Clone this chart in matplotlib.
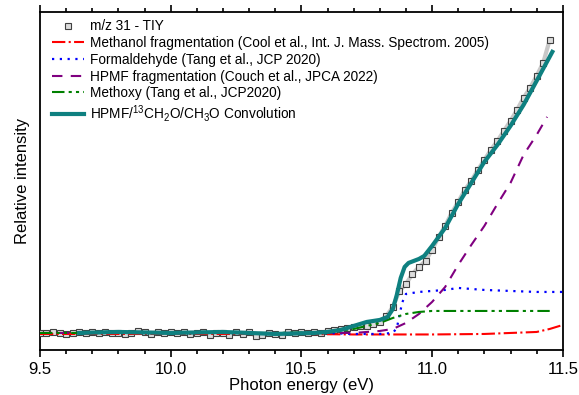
import numpy as np
import matplotlib
matplotlib.use("Agg")
import matplotlib.pyplot as plt

plt.rcParams['font.family'] = ['Liberation Sans', 'DejaVu Sans']
plt.rcParams['mathtext.fontset'] = 'custom'
plt.rcParams['mathtext.rm'] = 'Liberation Sans'
plt.rcParams['mathtext.it'] = 'Liberation Sans:italic'

# m/z 31 TIY data (0.025 eV steps, 9.5 - 11.45 eV)
tiy_energy = np.round(np.arange(9.5, 11.4501, 0.025), 3)
tiy_signal = [0.0, 0.0, 0.01, 0.0, -0.01, 0.0, 0.01, 0.0, 0.01, 0.0,
              0.01, 0.0, 0.0, -0.01, 0.0, 0.02, 0.01, -0.01, 0.01, 0.0,
              0.01, 0.0, 0.01, -0.01, 0.0, 0.01, -0.02, 0.0, 0.0, -0.02,
              0.01, -0.01, 0.01, -0.03, -0.02, 0.0, -0.01, -0.02, 0.01, 0.0,
              0.01, 0.0, 0.01, 0.0, 0.02, 0.03, 0.04, 0.05, 0.06, 0.07,
              0.07, 0.09, 0.11, 0.17, 0.26, 0.42, 0.49, 0.59, 0.66, 0.72,
              0.83, 0.96, 1.07, 1.20, 1.31, 1.43, 1.52, 1.63, 1.73, 1.83,
              1.92, 2.02, 2.12, 2.23, 2.35, 2.45, 2.57, 2.70, 2.93]

# convolution fit
conv_energy = [9.65, 9.8, 10.0, 10.2, 10.4, 10.55, 10.6, 10.65, 10.7, 10.75,
               10.8, 10.83, 10.85, 10.865, 10.88, 10.895, 10.91, 10.93, 10.95, 10.97,
               11.0, 11.05, 11.1, 11.15, 11.2, 11.25, 11.3, 11.35, 11.4, 11.46]
conv_signal = [0.0, 0.01, 0.0, 0.01, -0.01, 0.0, 0.01, 0.03, 0.07, 0.11,
               0.13, 0.16, 0.24, 0.38, 0.55, 0.66, 0.70, 0.72, 0.74, 0.77,
               0.87, 1.05, 1.29, 1.50, 1.71, 1.88, 2.07, 2.28, 2.52, 2.81]

# reference curves
methanol_energy = [9.5, 10.0, 10.5, 10.7, 11.0, 11.2, 11.3, 11.4, 11.45, 11.5]
methanol_signal = [-0.01, -0.01, -0.01, -0.015, -0.015, -0.01, 0.0, 0.01, 0.04, 0.08]

formaldehyde_energy = [10.5, 10.6, 10.7, 10.8, 10.85, 10.865, 10.875, 10.885, 10.9, 10.95,
                       11.0, 11.05, 11.1, 11.15, 11.2, 11.3, 11.4, 11.5]
formaldehyde_signal = [0.0, 0.0, -0.01, -0.01, 0.0, 0.05, 0.17, 0.30, 0.39, 0.41,
                       0.42, 0.43, 0.45, 0.44, 0.43, 0.42, 0.41, 0.41]

hpmf_energy = [9.5, 10.0, 10.5, 10.7, 10.8, 10.85, 10.9, 10.95, 11.0, 11.05,
               11.1, 11.15, 11.2, 11.25, 11.3, 11.35, 11.4, 11.44]
hpmf_signal = [0.0, 0.0, 0.0, 0.0, 0.02, 0.04, 0.10, 0.19, 0.31, 0.46,
               0.68, 0.88, 1.07, 1.29, 1.50, 1.78, 1.98, 2.16]

methoxy_energy = [9.5, 10.0, 10.4, 10.6, 10.7, 10.75, 10.8, 10.85, 10.9, 10.95,
                  11.0, 11.1, 11.2, 11.3, 11.45]
methoxy_signal = [0.0, 0.0, 0.0, 0.01, 0.04, 0.07, 0.10, 0.15, 0.19, 0.21,
                  0.22, 0.22, 0.22, 0.22, 0.22]

fig = plt.figure(figsize=(5.79, 3.95), dpi=100)
ax = fig.add_axes([0.069, 0.114, 0.903, 0.856])

ax.plot(tiy_energy, tiy_signal, color='#c8c8c8', lw=3, zorder=2)
ax.plot(tiy_energy, tiy_signal, 's', ms=5, mfc='#dcdcdc', mec='#404040', mew=0.8,
        ls='none', label='m/z 31 - TIY', zorder=3)
ax.plot(methanol_energy, methanol_signal, color='red', ls='-.', lw=1.5,
        label='Methanol fragmentation (Cool et al., Int. J. Mass. Spectrom. 2005)', zorder=4)
ax.plot(formaldehyde_energy, formaldehyde_signal, color='blue', ls=(0, (1, 2.5)), lw=1.6,
        label='Formaldehyde (Tang et al., JCP 2020)', zorder=4)
ax.plot(hpmf_energy, hpmf_signal, color='purple', ls=(0, (5, 4)), lw=1.5,
        label='HPMF fragmentation (Couch et al., JPCA 2022)', zorder=4)
ax.plot(methoxy_energy, methoxy_signal, color='green', ls=(0, (6, 2, 1.5, 2, 1.5, 2)), lw=1.5,
        label='Methoxy (Tang et al., JCP2020)', zorder=4)
ax.plot(conv_energy, conv_signal, color='#0e8080', lw=3,
        label=r'HPMF/$^{13}$CH$_2$O/CH$_3$O Convolution', zorder=5)

ax.set_xlim(9.5, 11.5)
ax.set_ylim(-0.17, 3.21)
ax.set_xticks([9.5, 10.0, 10.5, 11.0, 11.5])
ax.set_xticklabels(['9.5', '10.0', '10.5', '11.0', '11.5'])
ax.set_xticks(np.arange(9.6, 11.5, 0.1), minor=True)
ax.set_yticks([])
ax.tick_params(axis='x', which='both', top=True, labelsize=12, width=1.2)
ax.tick_params(axis='x', which='major', length=5)
ax.tick_params(axis='x', which='minor', length=3)
for s in ax.spines.values():
    s.set_linewidth(1.3)

ax.set_xlabel('Photon energy (eV)', fontsize=12, labelpad=1)
ax.set_ylabel('Relative intensity', fontsize=12, labelpad=7)

ax.legend(loc='upper left', bbox_to_anchor=(0.008, 1.0), frameon=False, fontsize=9.8,
          handlelength=2.4, handletextpad=0.4, labelspacing=0.2, borderaxespad=0.15)

fig.savefig('out.png', dpi=100)
